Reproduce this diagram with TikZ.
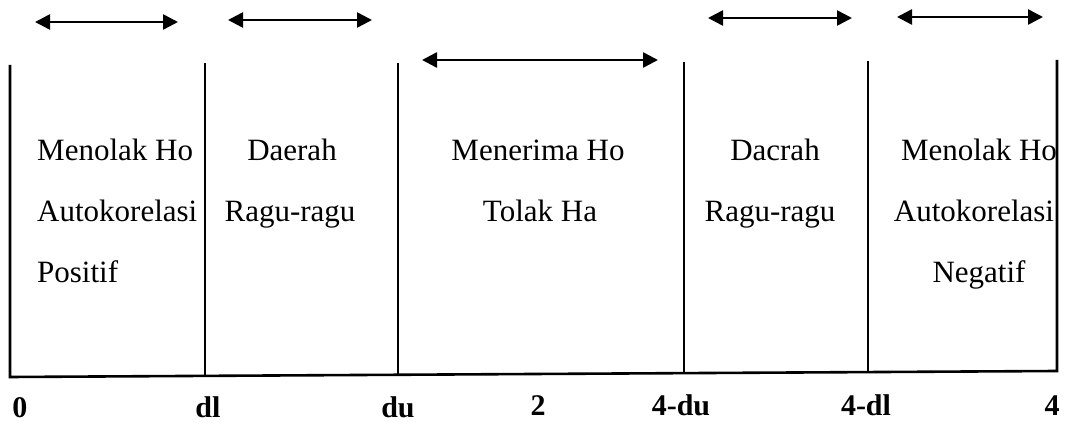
\documentclass[tikz,border=0pt]{standalone}
\usepackage{fontspec}
\setmainfont{Liberation Serif}
\usetikzlibrary{arrows.meta}
\begin{document}
\begin{tikzpicture}[x=1pt,y=-1pt,
  rule/.style={line width=2.6pt},
  span/.style={line width=2.6pt,{Triangle[length=15pt,width=15pt]}-{Triangle[length=15pt,width=15pt]}},
  txt/.style={font=\fontsize{31}{31}\selectfont,inner sep=0pt,anchor=base},
  axl/.style={font=\fontsize{30}{30}\selectfont\bfseries,inner sep=0pt,anchor=base}]
\useasboundingbox (0,0) rectangle (1080,427);
% verticals
\coordinate (v0t) at (10,65);  \coordinate (v0b) at (10,377);
\coordinate (v1t) at (205,63); \coordinate (v1b) at (205,376);
\coordinate (v2t) at (398,63); \coordinate (v2b) at (398,375);
\coordinate (v3t) at (684,62); \coordinate (v3b) at (684,373);
\coordinate (v4t) at (868,61); \coordinate (v4b) at (868,372);
\coordinate (v5t) at (1057,60);\coordinate (v5b) at (1057,371);
\draw[rule] (v0t) -- (v0b) -- (v5b) -- (v5t);
\foreach \i in {1,2,3,4} \draw[rule] (v\i t) -- (v\i b);
% arrows
\coordinate (a1l) at (35,22);  \coordinate (a1r) at (178,22);
\coordinate (a2l) at (228,20); \coordinate (a2r) at (372,20);
\coordinate (a3l) at (422,60); \coordinate (a3r) at (658,60);
\coordinate (a4l) at (708,18); \coordinate (a4r) at (852,18);
\coordinate (a5l) at (897,17); \coordinate (a5r) at (1043,17);
\foreach \i in {1,...,5} \draw[span] (a\i l) -- (a\i r);
% column 1
\node[txt,anchor=base west] (c1a) at (37,161) {Menolak Ho};
\node[txt,anchor=base west] (c1b) at (37,222) {Autokorelasi};
\node[txt,anchor=base west] (c1c) at (37,283) {Positif};
% column 2
\node[txt] (c2a) at (292,161) {Daerah};
\node[txt] (c2b) at (290,222) {Ragu-ragu};
% column 3
\node[txt] (c3a) at (538,161) {Menerima Ho};
\node[txt] (c3b) at (540,222) {Tolak Ha};
% column 4
\node[txt] (c4a) at (775,161) {Dacrah};
\node[txt] (c4b) at (770,222) {Ragu-ragu};
% column 5
\node[txt] (c5a) at (979,161) {Menolak Ho};
\node[txt] (c5b) at (974,222) {Autokorelasi};
\node[txt] (c5c) at (979,283) {Negatif};
% axis labels
\node[axl] (l0) at (20,418) {0};
\node[axl] (l1) at (208,418) {dl};
\node[axl] (l2) at (398,418) {du};
\node[axl] (l3) at (538,416) {2};
\node[axl] (l4) at (681,416) {4-du};
\node[axl] (l5) at (866,416) {4-dl};
\node[axl] (l6) at (1052,416) {4};
\end{tikzpicture}
\end{document}
